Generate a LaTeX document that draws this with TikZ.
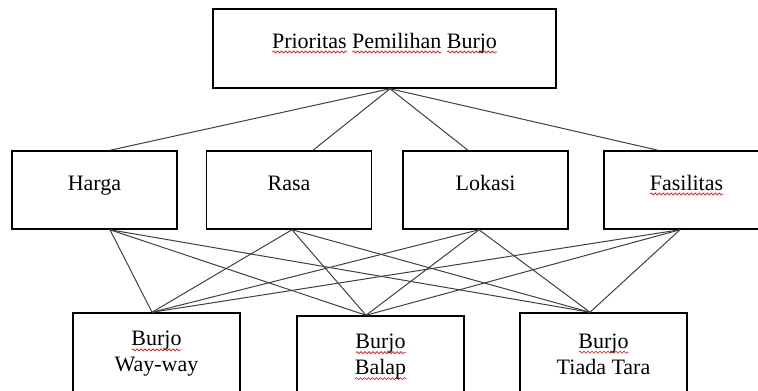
\documentclass[tikz,border=0pt]{standalone}
\usepackage{fontspec}
\setmainfont{Liberation Serif}
\usepackage{xcolor}
\usepackage{tikz}
\usetikzlibrary{decorations.pathmorphing}

\newsavebox{\typobox}
\newlength{\typowd}
\newcommand{\typo}[1]{\sbox{\typobox}{#1}\setlength{\typowd}{\wd\typobox}%
  \rlap{\tikz[baseline=0pt]\draw[red,line width=0.6pt,decorate,
    decoration={snake,amplitude=1pt,segment length=4pt}]
    (0pt,-4pt) -- (\the\typowd,-4pt);}\usebox{\typobox}}

\begin{document}
\begin{tikzpicture}[x=1pt,y=-1pt,
  box/.style={draw,line width=1.5pt,inner sep=0pt,font=\fontsize{22}{26}\selectfont},
  goal/.style={box,minimum width=343pt,minimum height=79pt,text height=39pt,text depth=40pt},
  crit/.style={box,minimum width=165pt,minimum height=78pt,text height=39pt,text depth=39pt},
  alt/.style={box,minimum width=167pt,minimum height=82pt,align=center},
  link/.style={line width=1pt,black!75}
]
\useasboundingbox (0,0) rectangle (758,391);

\node[goal] (goal) at (384.5,48.5) {\typo{Prioritas} \typo{Pemilihan} \typo{Burjo}};

\node[crit] (harga) at (94.5,190) {Harga};
\node[crit] (rasa) at (289,190) {Rasa};
\node[crit] (lokasi) at (485.5,190) {Lokasi};
\node[crit] (fasilitas) at (686.5,190) {\typo{Fasilitas}};

\node[alt] (wayway) at (156.5,354) {\typo{Burjo}\\Way-way};
\node[alt] (balap) at (380.5,357) {\typo{Burjo}\\\typo{Balap}};
\node[alt] (tiada) at (603.5,354) {\typo{Burjo}\\Tiada Tara};

\foreach \c/\dx in {harga/15.5,rasa/24,lokasi/-17.5,fasilitas/-28.5}
  \draw[link] ([xshift=5.5pt]goal.south) -- ([xshift=\dx pt]\c.north);
\foreach \c/\dc in {harga/15.5,rasa/3,lokasi/-6.5,fasilitas/-6.5}
  \foreach \a/\da in {wayway/-4.5,balap/-14.5,tiada/-13.5}
    \draw[link] ([xshift=\dc pt]\c.south) -- ([xshift=\da pt]\a.north);
\end{tikzpicture}
\end{document}
